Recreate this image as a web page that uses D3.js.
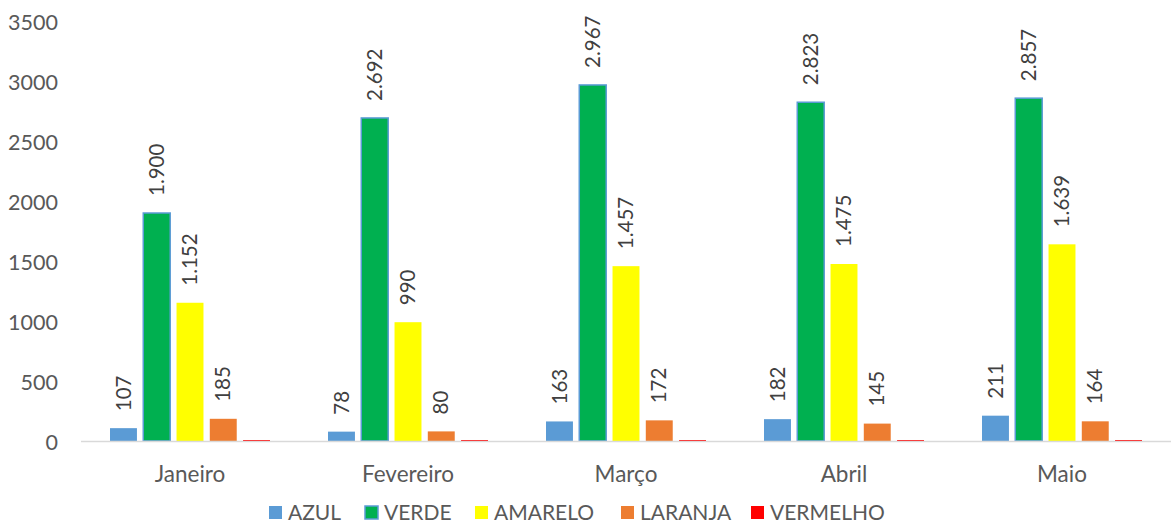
<!DOCTYPE html>
<html>
<head>
<meta charset="utf-8">
<script src="https://cdnjs.cloudflare.com/ajax/libs/d3/7.8.5/d3.min.js"></script>
<style>
body{margin:0;background:#fff;}
text{font-family:Lato,"Open Sans",sans-serif;}
</style>
</head>
<body>
<div id="chart"></div>
<script>
var meses=["Janeiro","Fevereiro","Março","Abril","Maio"];
var series=["AZUL","VERDE","AMARELO","LARANJA","VERMELHO"];
var azul=[107,78,163,182,211];
var verde=[1900,2692,2967,2823,2857];
var amarelo=[1152,990,1457,1475,1639];
var laranja=[185,80,172,145,164];
var vermelho=[8,8,8,8,8];
var yTicks=[0,500,1000,1500,2000,2500,3000,3500];

var cores={AZUL:"#5B9BD5",VERDE:"#00B050",AMARELO:"#FFFF00",LARANJA:"#ED7D31",VERMELHO:"#FF0000"};
var valores={AZUL:azul,VERDE:verde,AMARELO:amarelo,LARANJA:laranja,VERMELHO:vermelho};
var comRotulo={AZUL:true,VERDE:true,AMARELO:true,LARANJA:true,VERMELHO:false};

var width=1172, height=524;
var svg=d3.select("#chart").append("svg")
  .attr("width",width)
  .attr("height",height);

var x0=d3.scaleBand().domain(meses).range([81,1171]);
var x1=d3.scaleBand().domain(series).range([29,x0.bandwidth()-29]).paddingInner(0.19);
var y=d3.scaleLinear().domain([0,3500]).range([441,21]);

var fmt=function(v){return d3.format(",")(v).replace(/,/g,".");};

// eixo y (só rótulos)
svg.selectAll(".ytick")
  .data(yTicks)
  .enter()
  .append("text")
  .attr("x",58)
  .attr("y",function(d){return y(d)+1;})
  .attr("dy","0.35em")
  .attr("text-anchor","end")
  .attr("font-size",21.5)
  .attr("fill","#595959")
  .text(function(d){return d;});

// barras
var grupos=svg.selectAll(".grupo")
  .data(meses)
  .enter()
  .append("g")
  .attr("transform",function(d){return "translate("+x0(d)+",0)";});

series.forEach(function(s){
  grupos.append("rect")
    .attr("x",x1(s))
    .attr("y",function(d,i){return y(valores[s][i]);})
    .attr("width",x1.bandwidth())
    .attr("height",function(d,i){return y(0)-y(valores[s][i]);})
    .attr("fill",cores[s])
    .attr("stroke",s=="VERDE"?"#5B9BD5":"none")
    .attr("stroke-width",s=="VERDE"?1.5:0);
  if(comRotulo[s]){
    grupos.append("text")
      .attr("transform",function(d,i){
        var cx=x1(s)+x1.bandwidth()/2;
        return "translate("+cx+","+(y(valores[s][i])-17)+") rotate(-90)";
      })
      .attr("dy","0.35em")
      .attr("text-anchor","start")
      .attr("font-size",20.5)
      .attr("fill","#404040")
      .text(function(d,i){return fmt(valores[s][i]);});
  }
});

// eixo x
svg.append("line")
  .attr("x1",81).attr("x2",1171)
  .attr("y1",y(0)+0.5).attr("y2",y(0)+0.5)
  .attr("stroke","#D9D9D9")
  .attr("stroke-width",1.5);

svg.selectAll(".xlab")
  .data(meses)
  .enter()
  .append("text")
  .attr("x",function(d){return x0(d)+x0.bandwidth()/2;})
  .attr("y",474)
  .attr("dy","0.35em")
  .attr("text-anchor","middle")
  .attr("font-size",22.5)
  .attr("fill","#595959")
  .text(function(d){return d;});

// legenda
var legX=[269,365,475,621,751];
var legenda=svg.selectAll(".leg")
  .data(series)
  .enter()
  .append("g")
  .attr("transform",function(d,i){return "translate("+legX[i]+",506)";});
legenda.append("rect")
  .attr("width",13).attr("height",13)
  .attr("fill",function(d){return cores[d];})
  .attr("stroke",function(d){return d=="VERDE"?"#5B9BD5":"none";})
  .attr("stroke-width",1.5);
legenda.append("text")
  .attr("x",19)
  .attr("y",7)
  .attr("dy","0.35em")
  .attr("font-size",21)
  .attr("fill","#595959")
  .text(function(d){return d;});
</script>
</body>
</html>
